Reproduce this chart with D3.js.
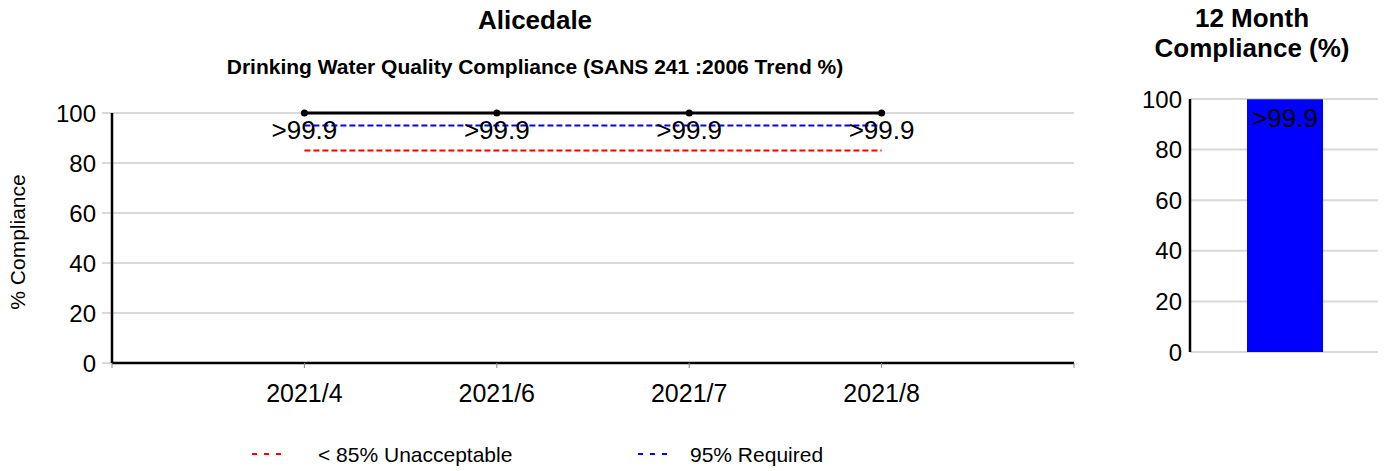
<!DOCTYPE html>
<html>
<head>
<meta charset="utf-8">
<script src="https://cdn.jsdelivr.net/npm/d3@7"></script>
<style>
  body { margin: 0; background: #fff; }
  svg { font-family: "Liberation Sans", Arial, sans-serif; }
</style>
</head>
<body>
<svg id="chart" width="1389" height="471"></svg>
<script>
// données
const months = ["2021/4", "2021/6", "2021/7", "2021/8"];
const compliance = [100, 100, 100, 100];
const labels = [">99.9", ">99.9", ">99.9", ">99.9"];
const unacceptable = 85;
const required = 95;
const yTicks = [0, 20, 40, 60, 80, 100];
const yearValue = [99.9];
const yearLabel = [">99.9"];

const svg = d3.select("#chart");

// --- graphique de tendance ---
const x = d3.scaleLinear().domain([0, months.length + 1]).range([112, 1074]);
const y = d3.scaleLinear().domain([0, 100]).range([363, 113]);

svg.append("text")
    .attr("x", 535).attr("y", 29)
    .attr("text-anchor", "middle")
    .attr("font-size", 26).attr("font-weight", "bold")
    .text("Alicedale");

svg.append("text")
    .attr("x", 535).attr("y", 74)
    .attr("text-anchor", "middle")
    .attr("font-size", 21).attr("font-weight", "bold")
    .text("Drinking Water Quality Compliance (SANS 241 :2006 Trend %)");

svg.append("g")
    .attr("stroke", "#d9d9d9").attr("stroke-width", 2)
  .selectAll()
  .data(yTicks)
  .join("line")
    .attr("x1", 102).attr("x2", 1074)
    .attr("y1", d => y(d)).attr("y2", d => y(d));

svg.append("g")
    .attr("font-size", 24).attr("text-anchor", "end")
  .selectAll()
  .data(yTicks)
  .join("text")
    .attr("x", 96).attr("y", d => y(d))
    .attr("dy", "0.36em")
    .text(d => d);

svg.append("text")
    .attr("transform", "translate(25,242) rotate(-90)")
    .attr("text-anchor", "middle")
    .attr("font-size", 21)
    .text("% Compliance");

// axe x
svg.append("line")
    .attr("x1", 112).attr("x2", 1074)
    .attr("y1", y(0)).attr("y2", y(0))
    .attr("stroke", "#000").attr("stroke-width", 2.5);

svg.append("g")
    .attr("stroke", "#888")
  .selectAll()
  .data(d3.range(months.length + 2))
  .join("line")
    .attr("x1", d => x(d)).attr("x2", d => x(d))
    .attr("y1", y(0)).attr("y2", y(0) + 5);

svg.append("line")
    .attr("x1", 112).attr("x2", 112)
    .attr("y1", y(100)).attr("y2", y(0))
    .attr("stroke", "#000").attr("stroke-width", 2.5);

svg.append("g")
    .attr("font-size", 25).attr("text-anchor", "middle")
  .selectAll()
  .data(months)
  .join("text")
    .attr("x", (d, i) => x(i + 1)).attr("y", 402)
    .text(d => d);

// seuils
const seuils = [
  { value: unacceptable, color: "#ff0000" },
  { value: required, color: "#0000ff" }
];
svg.append("g")
    .attr("stroke-width", 2).attr("stroke-dasharray", "6,3")
  .selectAll()
  .data(seuils)
  .join("line")
    .attr("stroke", d => d.color)
    .attr("x1", x(1)).attr("x2", x(months.length))
    .attr("y1", d => y(d.value)).attr("y2", d => y(d.value));

const line = d3.line()
    .x((d, i) => x(i + 1))
    .y(d => y(d));

svg.append("path")
    .datum(compliance)
    .attr("fill", "none")
    .attr("stroke", "#000").attr("stroke-width", 3)
    .attr("d", line);

svg.append("g")
  .selectAll()
  .data(compliance)
  .join("circle")
    .attr("cx", (d, i) => x(i + 1)).attr("cy", d => y(d))
    .attr("r", 3.5);

svg.append("g")
    .attr("font-size", 26).attr("text-anchor", "middle")
  .selectAll()
  .data(labels)
  .join("text")
    .attr("x", (d, i) => x(i + 1)).attr("y", (d, i) => y(compliance[i]) + 26)
    .text(d => d);

// légende
const legend = [
  { label: "< 85% Unacceptable", color: "#ff0000", x: 252, tx: 66 },
  { label: "95% Required", color: "#0000ff", x: 638, tx: 52 }
];
const lg = svg.append("g")
  .selectAll()
  .data(legend)
  .join("g")
    .attr("transform", d => `translate(${d.x},454)`);
lg.append("line")
    .attr("x1", 0).attr("x2", 34)
    .attr("stroke", d => d.color).attr("stroke-width", 2)
    .attr("stroke-dasharray", "5,7");
lg.append("text")
    .attr("x", d => d.tx)
    .attr("dy", "0.36em")
    .attr("font-size", 21)
    .text(d => d.label);

// --- conformité sur 12 mois ---
const y2 = d3.scaleLinear().domain([0, 100]).range([352, 99]);

svg.append("g")
    .attr("text-anchor", "middle")
    .attr("font-size", 26).attr("font-weight", "bold")
  .selectAll()
  .data(["12 Month", "Compliance (%)"])
  .join("text")
    .attr("x", 1252).attr("y", (d, i) => 27 + i * 30)
    .text(d => d);

svg.append("g")
    .attr("stroke", "#d9d9d9").attr("stroke-width", 2)
  .selectAll()
  .data(yTicks)
  .join("line")
    .attr("x1", 1190).attr("x2", 1378)
    .attr("y1", d => y2(d)).attr("y2", d => y2(d));

svg.append("g")
    .attr("font-size", 24).attr("text-anchor", "end")
  .selectAll()
  .data(yTicks)
  .join("text")
    .attr("x", 1182).attr("y", d => y2(d))
    .attr("dy", "0.36em")
    .text(d => d);

svg.append("line")
    .attr("x1", 1190).attr("x2", 1190)
    .attr("y1", y2(100)).attr("y2", y2(0))
    .attr("stroke", "#000").attr("stroke-width", 2.5);

svg.append("g")
  .selectAll()
  .data(yearValue)
  .join("rect")
    .attr("x", 1247).attr("width", 76)
    .attr("y", d => y2(d)).attr("height", d => y2(0) - y2(d))
    .attr("fill", "#0000ff");

svg.append("g")
    .attr("font-size", 26).attr("text-anchor", "middle")
  .selectAll()
  .data(yearLabel)
  .join("text")
    .attr("x", 1285).attr("y", (d, i) => y2(yearValue[i]) + 28)
    .text(d => d);
</script>
</body>
</html>
